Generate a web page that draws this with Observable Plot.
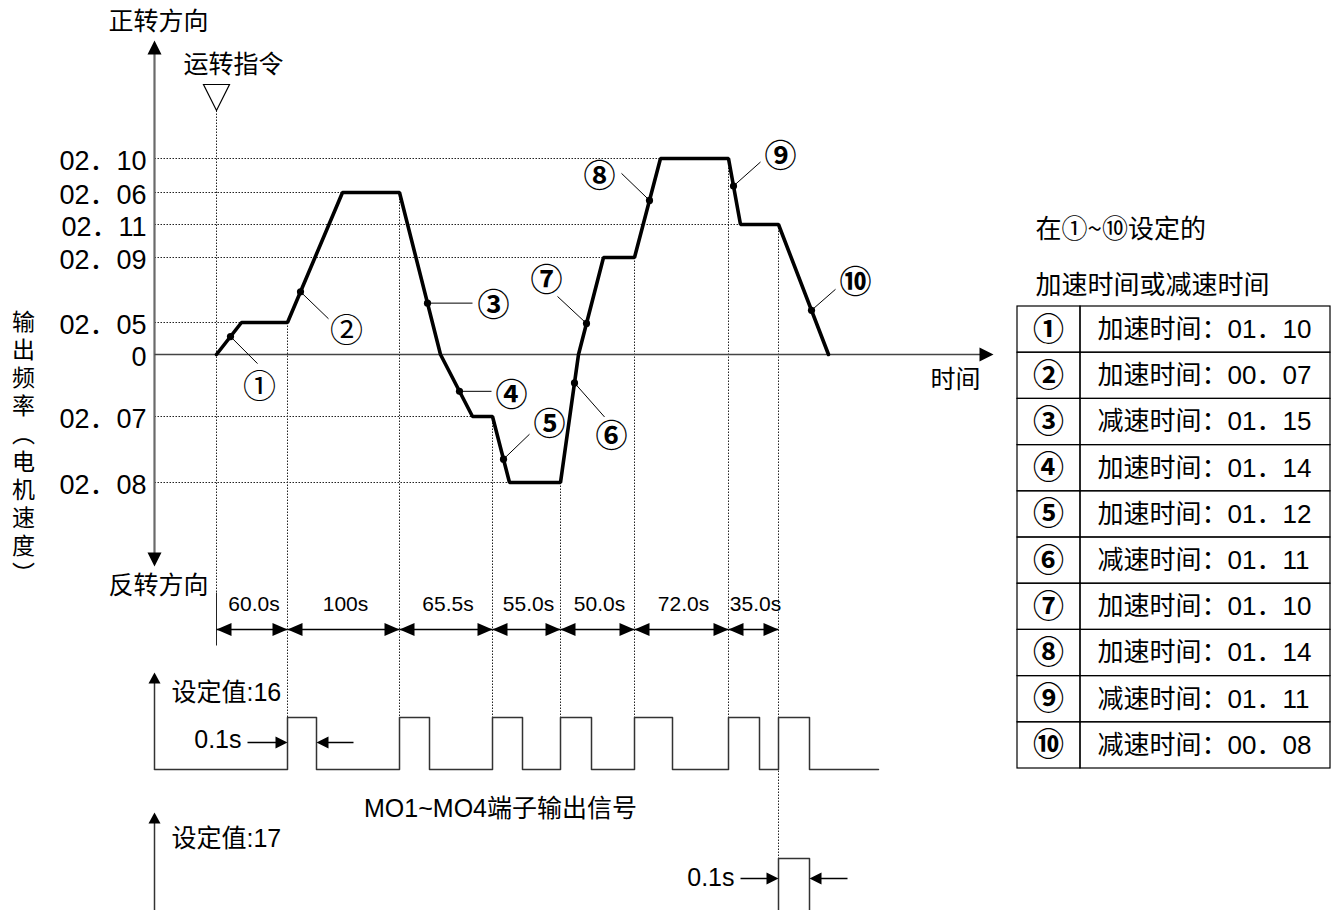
<!DOCTYPE html>
<html><head><meta charset="utf-8">
<script src="https://cdn.jsdelivr.net/npm/d3@7"></script>
<script src="https://cdn.jsdelivr.net/npm/@observablehq/plot@0.6"></script>
<style>
html,body{margin:0;padding:0;background:#fff;}
#chart{position:relative;width:1333px;height:910px;overflow:hidden;}
</style>
</head><body><div id="chart"></div>
<script>
// ---------------- data ----------------
const levelLabels = ["02．10","02．06","02．11","02．09","02．05","0","02．07","02．08"];
const levelValues = [196, 162, 130, 97, 32, 0, -62, -128];           // relative output frequency
const segmentBounds = [0, 71, 183, 276, 344, 418, 512, 562];         // time-axis position of each step
const durationLabels = ["60.0s","100s","65.5s","55.0s","50.0s","72.0s","35.0s"];
const profileT = [0,25,71,126,183,224,256,276,293,344,362,387,418,444,512,524,562,612];
const profileV = [0,32,32,162,162,0,-62,-62,-128,-128,0,97,97,196,196,130,130,0];
const markerNames = ["①","②","③","④","⑤","⑥","⑦","⑧","⑨","⑩"];
const markerT = [14,84,211,243,287,358,370,433,517,595];
const pulseFallT = [100,213,306,375,456,543,593];                    // end of each 0.1s pulse
const tableKinds = ["加速时间","加速时间","减速时间","加速时间","加速时间","减速时间","加速时间","加速时间","减速时间","减速时间"];
const tableParams = ["01．10","00．07","01．15","01．14","01．12","01．11","01．10","01．14","01．11","00．08"];
const yTitle = "输出频率（电机速度）";

// ---------------- layout ----------------
const X0 = 216, Y0 = 354;
const X = px => px - X0;
const Y = py => Y0 - py;
// callout offsets (px) relative to marker dots: leader end and label centre
const calloutLeader = [[27,27],[28,27],[45,0],[32,0],[26,-25],[30,34],[-29,-27],[-28,-27],[27,-24],[24,-21]];
const calloutLabel  = [[29,51],[46,40],[66,3],[52,4],[46,-34],[37,54],[-40,-43],[-50,-24],[47,-29],[44,-28]];
const axisX = X(154);
const row1 = {base: Y(769), high: Y(717), tip: Y(672)};
const row2 = {base: Y(914), high: Y(858), tip: Y(812)};
const durY = Y(629), durLabelY = Y(604);
const FONT = '"Liberation Sans", Arial, "Noto Sans CJK SC", sans-serif';
const CJK = '"Noto Sans CJK SC", "Liberation Sans", sans-serif';

// ---------------- derived ----------------
const profile = profileT.map((t, i) => ({t, v: profileV[i]}));
function valueAt(t) {
  for (let i = 1; i < profile.length; i++) {
    const a = profile[i - 1], b = profile[i];
    if (t >= a.t && t <= b.t) return b.t === a.t ? a.v : a.v + (t - a.t) / (b.t - a.t) * (b.v - a.v);
  }
  return 0;
}
const levels = levelLabels.map((label, i) => ({label, v: levelValues[i]}));
const grid = levels.filter(d => d.v !== 0).map(d => ({...d, end: profile.find(p => p.v === d.v).t}));
const bounds = segmentBounds.slice(1).map((t, i, arr) => ({
  t, v1: valueAt(t), v2: i === arr.length - 1 ? row2.high : row1.high
}));
const markers = markerNames.map((name, i) => {
  const t = markerT[i], v = valueAt(t);
  return {name, t, v, bold: i >= 2,
    lx: t + calloutLeader[i][0], lv: v - calloutLeader[i][1],
    tx: t + calloutLabel[i][0], tv: v - calloutLabel[i][1]};
});
const durations = durationLabels.map((label, i) => ({label, a: segmentBounds[i], b: segmentBounds[i + 1]}));
const pulse1 = [{t: axisX, v: row1.base}];
segmentBounds.slice(1).forEach((r, i) => {
  const f = pulseFallT[i];
  pulse1.push({t: r, v: row1.base}, {t: r, v: row1.high}, {t: f, v: row1.high}, {t: f, v: row1.base});
});
pulse1.push({t: X(878), v: row1.base});
const lastRise = segmentBounds[segmentBounds.length - 1], lastFall = pulseFallT[pulseFallT.length - 1];
const pulse2 = [{t: lastRise, v: row2.base}, {t: lastRise, v: row2.high}, {t: lastFall, v: row2.high}, {t: lastFall, v: row2.base}];

const tTop = 306, rowH = 46.2;
const rows = tableKinds.map((k, i) => ({
  num: markerNames[i], text: k + "：" + tableParams[i],
  y1: Y(tTop + i * rowH), y2: Y(tTop + (i + 1) * rowH), yc: Y(tTop + (i + 0.5) * rowH)
}));

// symbols
const head = (len, hw) => ({draw(ctx) { ctx.moveTo(0, 0); ctx.lineTo(-len, -hw); ctx.lineTo(-len, hw); ctx.closePath(); }});
const downTri = {draw(ctx) { ctx.moveTo(-13, -26); ctx.lineTo(13, -26); ctx.lineTo(0, 0); ctx.closePath(); }};
const bigHead = head(14, 7), durHead = head(15, 6.5), smallHead = head(12, 6), tinyHead = head(11, 6);

const dotted = {stroke: "#222", strokeWidth: 1, strokeDasharray: "1.5,1.5"};

const chart = Plot.plot({
  width: 1333, height: 910, margin: 0,
  x: {domain: [-X0, 1333 - X0], range: [0, 1333], axis: null},
  y: {domain: [Y0, Y0 - 910], range: [0, 910], axis: null},
  style: {background: "white", fontFamily: FONT, color: "black"},
  marks: [
    // dotted guide lines
    Plot.link(grid, {x1: axisX, x2: "end", y1: "v", y2: "v", ...dotted}),
    Plot.link(bounds, {x1: "t", x2: "t", y1: "v1", y2: "v2", ...dotted}),
    Plot.link([0], {x1: 0, x2: 0, y1: Y(110), y2: Y(592), ...dotted}),
    Plot.link([0], {x1: 0, x2: 0, y1: Y(592), y2: Y(645), stroke: "#222", strokeWidth: 1}),
    // run command marker
    Plot.dot([0], {x: 0, y: Y(110), symbol: downTri, fill: "white", stroke: "black", strokeWidth: 1.2}),
    // axes
    Plot.link([0], {x1: axisX, x2: axisX, y1: Y(50), y2: Y(555), stroke: "#6a6a6a", strokeWidth: 2.2}),
    Plot.dot([0], {x: axisX, y: Y(40), symbol: bigHead, rotate: -90, fill: "black", stroke: "none"}),
    Plot.dot([0], {x: axisX, y: Y(566), symbol: bigHead, rotate: 90, fill: "black", stroke: "none"}),
    Plot.link([0], {x1: axisX, x2: X(980), y1: 0, y2: 0, stroke: "#444", strokeWidth: 1.5}),
    Plot.dot([0], {x: X(993), y: 0, symbol: bigHead, fill: "black", stroke: "none"}),
    // level tick labels
    Plot.text(levels, {x: X(146), y: "v", text: "label", textAnchor: "end", fontSize: 27, dy: 3, fill: "black"}),
    // speed profile
    Plot.line(profile, {x: "t", y: "v", stroke: "black", strokeWidth: 3.6, strokeLinejoin: "miter", curve: "linear"}),
    // callouts
    Plot.link(markers, {x1: "t", y1: "v", x2: "lx", y2: "lv", stroke: "black", strokeWidth: 1}),
    Plot.dot(markers, {x: "t", y: "v", r: 3.6, fill: "black", stroke: "none"}),
    Plot.text(markers.filter(d => !d.bold), {x: "tx", y: "tv", text: "name", fontSize: 33, fontFamily: CJK, fill: "black"}),
    Plot.text(markers.filter(d => d.bold), {x: "tx", y: "tv", text: "name", fontSize: 32, fontWeight: "bold", fontFamily: CJK, fill: "black"}),
    // direction / axis captions
    Plot.text(["正转方向"], {x: X(158), y: Y(21), text: d => d, fontSize: 25, fontFamily: CJK, fill: "black"}),
    Plot.text(["运转指令"], {x: X(233), y: Y(64), text: d => d, fontSize: 25, fontFamily: CJK, fill: "black"}),
    Plot.text(["反转方向"], {x: X(158), y: Y(585), text: d => d, fontSize: 25, fontFamily: CJK, fill: "black"}),
    Plot.text(["时间"], {x: X(955), y: Y(379), text: d => d, fontSize: 25, fontFamily: CJK, fill: "black"}),
    Plot.text([yTitle], {x: X(23), y: Y(309), text: d => d, textAnchor: "start", lineAnchor: "bottom", fontSize: 23, fontFamily: CJK, fill: "black"}),
    // duration arrows
    Plot.link(durations, {x1: "a", x2: "b", y1: durY, y2: durY, stroke: "black", strokeWidth: 1.5}),
    Plot.dot(durations, {x: "a", y: durY, symbol: durHead, rotate: 180, fill: "black", stroke: "none"}),
    Plot.dot(durations, {x: "b", y: durY, symbol: durHead, fill: "black", stroke: "none"}),
    Plot.text(durations, {x: d => (d.a + d.b) / 2 + 2, y: durLabelY, text: "label", fontSize: 21, fill: "black"}),
    // output signal, setting 16
    Plot.link([0], {x1: axisX, x2: axisX, y1: row1.base, y2: row1.tip - 8, stroke: "#333", strokeWidth: 1.5}),
    Plot.dot([0], {x: axisX, y: row1.tip, symbol: tinyHead, rotate: -90, fill: "black", stroke: "none"}),
    Plot.line(pulse1, {x: "t", y: "v", stroke: "#333", strokeWidth: 1.5, curve: "linear"}),
    Plot.text(["设定值:16"], {x: X(171), y: Y(692), text: d => d, textAnchor: "start", fontSize: 25, fill: "black"}),
    Plot.text(["0.1s"], {x: X(241), y: Y(739), text: d => d, textAnchor: "end", fontSize: 25, fill: "black"}),
    Plot.link([0], {x1: X(247), x2: X(280), y1: Y(742), y2: Y(742), stroke: "black", strokeWidth: 1.5}),
    Plot.dot([0], {x: segmentBounds[1], y: Y(742), symbol: smallHead, fill: "black", stroke: "none"}),
    Plot.link([0], {x1: X(353), x2: X(322), y1: Y(742), y2: Y(742), stroke: "black", strokeWidth: 1.5}),
    Plot.dot([0], {x: pulseFallT[0], y: Y(742), symbol: smallHead, rotate: 180, fill: "black", stroke: "none"}),
    Plot.text(["MO1~MO4端子输出信号"], {x: X(500), y: Y(808), text: d => d, fontSize: 25, fill: "black"}),
    // output signal, setting 17
    Plot.link([0], {x1: axisX, x2: axisX, y1: row2.base, y2: row2.tip - 8, stroke: "#333", strokeWidth: 1.5}),
    Plot.dot([0], {x: axisX, y: row2.tip, symbol: tinyHead, rotate: -90, fill: "black", stroke: "none"}),
    Plot.line(pulse2, {x: "t", y: "v", stroke: "#333", strokeWidth: 1.5, curve: "linear"}),
    Plot.text(["设定值:17"], {x: X(171), y: Y(838), text: d => d, textAnchor: "start", fontSize: 25, fill: "black"}),
    Plot.text(["0.1s"], {x: X(734), y: Y(877), text: d => d, textAnchor: "end", fontSize: 25, fill: "black"}),
    Plot.link([0], {x1: X(740), x2: X(771), y1: Y(878), y2: Y(878), stroke: "black", strokeWidth: 1.5}),
    Plot.dot([0], {x: lastRise, y: Y(878), symbol: smallHead, fill: "black", stroke: "none"}),
    Plot.link([0], {x1: X(847), x2: X(815), y1: Y(878), y2: Y(878), stroke: "black", strokeWidth: 1.5}),
    Plot.dot([0], {x: lastFall, y: Y(878), symbol: smallHead, rotate: 180, fill: "black", stroke: "none"}),
    // table
    Plot.text(["在①~⑩设定的"], {x: X(1035), y: Y(229), text: d => d, textAnchor: "start", fontSize: 26, fontFamily: CJK, fill: "black"}),
    Plot.text(["加速时间或减速时间"], {x: X(1035), y: Y(285), text: d => d, textAnchor: "start", fontSize: 26, fontFamily: CJK, fill: "black"}),
    Plot.rect(rows, {x1: X(1017), x2: X(1080), y1: "y1", y2: "y2", fill: "none", stroke: "black", strokeWidth: 1.2}),
    Plot.rect(rows, {x1: X(1080), x2: X(1330), y1: "y1", y2: "y2", fill: "none", stroke: "black", strokeWidth: 1.2}),
    Plot.text(rows, {x: X(1048), y: "yc", text: "num", fontSize: 31, fontWeight: "bold", fontFamily: CJK, fill: "black"}),
    Plot.text(rows, {x: X(1097), y: "yc", text: "text", textAnchor: "start", fontSize: 26, fill: "black"})
  ]
});
// vertical (top-to-bottom) writing for the y title
chart.querySelectorAll("text").forEach(t => {
  if (t.textContent === yTitle) {
    t.removeAttribute("dy");
    t.setAttribute("style", "writing-mode: vertical-rl; letter-spacing: 5px;");
  }
});
document.getElementById("chart").append(chart);
</script>
</body></html>
